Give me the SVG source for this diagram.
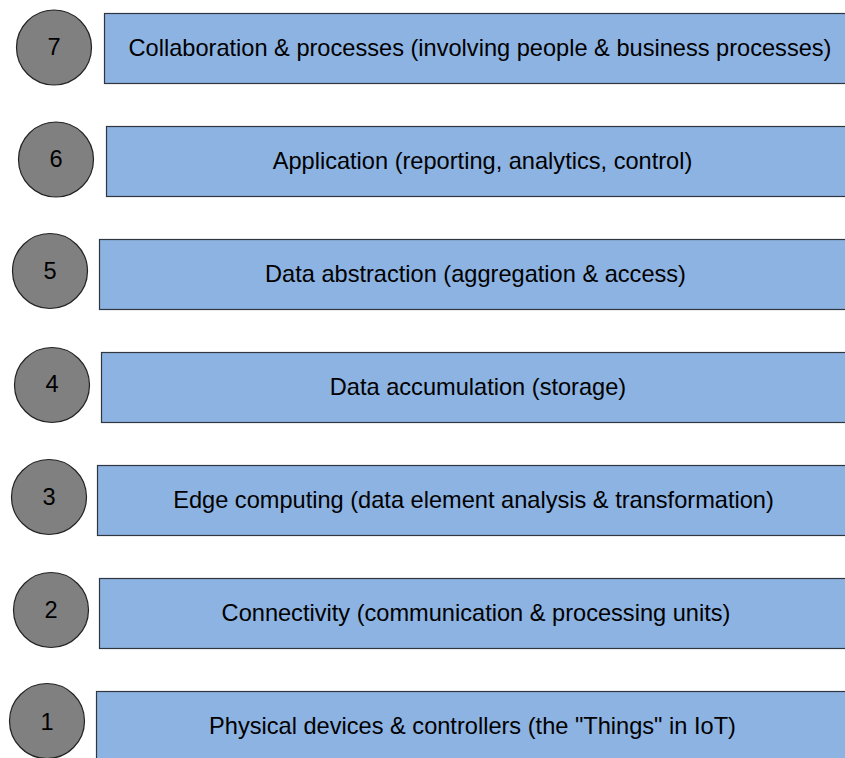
<svg xmlns="http://www.w3.org/2000/svg" width="845" height="758" viewBox="0 0 845 758">
<style>
.box{fill:#8db3e2;stroke:#2f3640;stroke-width:1.2}
.num{fill:#808080;stroke:#222;stroke-width:1.2}
text{font-family:"Liberation Sans",Arial,sans-serif;font-size:23.6px;fill:#000;text-anchor:middle;dominant-baseline:central}
</style>
<rect width="845" height="758" fill="#fff"/>
<g id="layer7">
<circle class="num" cx="54" cy="47.5" r="37.5"/>
<text x="54" y="47">7</text>
<rect class="box" x="104.5" y="13.5" width="753" height="70"/>
<text x="480" y="48">Collaboration &amp; processes (involving people &amp; business processes)</text>
</g>
<g id="layer6">
<circle class="num" cx="56" cy="159.5" r="37.5"/>
<text x="56" y="159">6</text>
<rect class="box" x="106.5" y="126.5" width="753" height="70"/>
<text x="482.5" y="161">Application (reporting, analytics, control)</text>
</g>
<g id="layer5">
<circle class="num" cx="50" cy="271" r="37.5"/>
<text x="50" y="271">5</text>
<rect class="box" x="99.5" y="239.5" width="753" height="70"/>
<text x="475.5" y="274">Data abstraction (aggregation &amp; access)</text>
</g>
<g id="layer4">
<circle class="num" cx="52" cy="385" r="37.5"/>
<text x="52" y="384">4</text>
<rect class="box" x="101.5" y="352.5" width="753" height="70"/>
<text x="478" y="387">Data accumulation (storage)</text>
</g>
<g id="layer3">
<circle class="num" cx="49" cy="497" r="37.5"/>
<text x="49" y="497">3</text>
<rect class="box" x="97.5" y="465.5" width="753" height="70"/>
<text x="473.5" y="500">Edge computing (data element analysis &amp; transformation)</text>
</g>
<g id="layer2">
<circle class="num" cx="51" cy="610" r="37.5"/>
<text x="51" y="610">2</text>
<rect class="box" x="99.5" y="578.5" width="753" height="70"/>
<text x="476" y="613">Connectivity (communication &amp; processing units)</text>
</g>
<g id="layer1">
<circle class="num" cx="47" cy="721" r="37.5"/>
<text x="47" y="722">1</text>
<rect class="box" x="96.5" y="691.5" width="753" height="70"/>
<text x="472.5" y="726">Physical devices &amp; controllers (the "Things" in IoT)</text>
</g>
<g id="connectors"/>
</svg>
